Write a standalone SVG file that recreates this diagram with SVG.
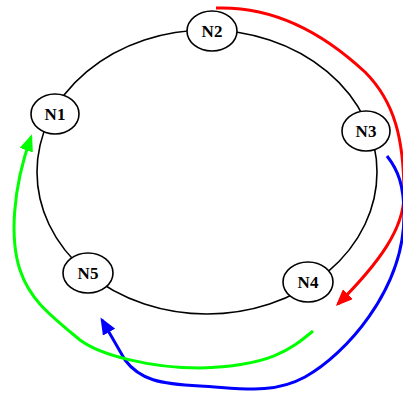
<svg xmlns="http://www.w3.org/2000/svg" width="403" height="396" viewBox="0 0 403 396">
<style>
.ring{fill:none;stroke:#000;stroke-width:1.6}
.node ellipse{fill:#fff;stroke:#000;stroke-width:1.6}
.node text{font-family:"Liberation Serif","Times New Roman",serif;font-weight:bold;font-size:17px;text-anchor:middle;dominant-baseline:central;fill:#000}
.c{fill:none;stroke-width:3}
</style>
<defs>
<marker id="aR" markerUnits="userSpaceOnUse" markerWidth="18" markerHeight="14" refX="14" refY="7" orient="auto"><path d="M0,0 L17,7 L0,14 z" fill="#ff0000"/></marker>
<marker id="aB" markerUnits="userSpaceOnUse" markerWidth="18" markerHeight="14" refX="14" refY="7" orient="auto"><path d="M0,0 L17,7 L0,14 z" fill="#0000ff"/></marker>
<marker id="aG" markerUnits="userSpaceOnUse" markerWidth="18" markerHeight="14" refX="14" refY="7" orient="auto"><path d="M0,0 L17,7 L0,14 z" fill="#00ff00"/></marker>
</defs>
<ellipse class="ring" cx="207" cy="172" rx="170" ry="142"/>
<g id="connectors">
<path class="c" stroke="#ff0000" marker-end="url(#aR)" d="M216,8 C270,6 320,30 365,72 C395,102 404,140 404,195 C404,228 380,262 338,304"/>
<path class="c" stroke="#0000ff" marker-end="url(#aB)" d="M387,156 C398,170 404,185 404,215 C404,290 345,355 305,377 C272,395 240,388 200,386 C160,384 140,380 125,360 L102,320"/>
<path class="c" stroke="#00ff00" marker-end="url(#aG)" d="M313,331 C290,350 270,366 200,368 C150,368 100,355 80,340 C50,315 30,300 20,270 C10,240 12,190 31,137"/>
</g>
<g id="N1" class="node"><ellipse cx="55" cy="114" rx="24" ry="20"/><text x="55" y="114">N1</text></g>
<g id="N2" class="node"><ellipse cx="212" cy="31" rx="25" ry="20"/><text x="212" y="31">N2</text></g>
<g id="N3" class="node"><ellipse cx="366" cy="131" rx="24" ry="20"/><text x="366" y="131">N3</text></g>
<g id="N4" class="node"><ellipse cx="308" cy="282" rx="25" ry="20"/><text x="308" y="282">N4</text></g>
<g id="N5" class="node"><ellipse cx="88" cy="273" rx="25" ry="20"/><text x="88" y="273">N5</text></g>
</svg>
